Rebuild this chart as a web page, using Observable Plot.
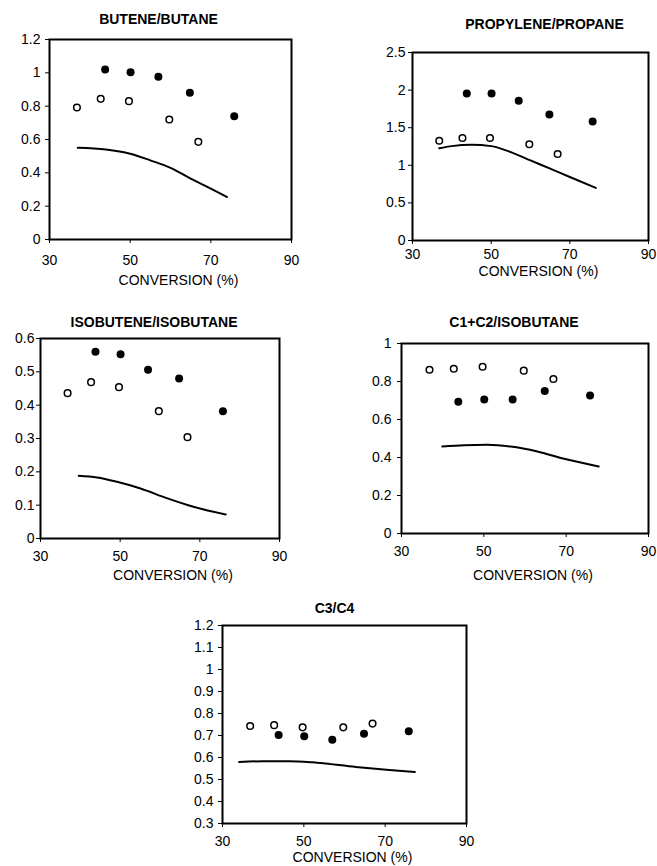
<!DOCTYPE html>
<html><head><meta charset="utf-8">
<script src="https://cdn.jsdelivr.net/npm/d3@7"></script>
<script src="https://cdn.jsdelivr.net/npm/@observablehq/plot@0.6"></script>
<style>
body{margin:0;background:#fff;}
#root{position:relative;width:657px;height:866px;overflow:hidden;background:#fff;}
#root svg{position:absolute;}
</style></head><body><div id="root"></div>
<script>
// ---- shared ----
const xLabel = "CONVERSION (%)";
const xTicks = [30, 50, 70, 90];
const convFilled = [43.8, 50.1, 57.0, 64.8, 75.8];
const convOpen = [36.8, 42.7, 49.7, 59.7, 66.9];

// ---- BUTENE/BUTANE ----
const title1 = "BUTENE/BUTANE";
const yTicks1 = [0, 0.2, 0.4, 0.6, 0.8, 1, 1.2];
const filled1 = [1.02, 1.004, 0.976, 0.88, 0.74];
const open1 = [0.792, 0.844, 0.83, 0.72, 0.586];
const lineX1 = [37, 44, 50, 55, 60, 65, 70, 74];
const lineY1 = [0.55, 0.54, 0.515, 0.475, 0.43, 0.365, 0.305, 0.255];

// ---- PROPYLENE/PROPANE ----
const title2 = "PROPYLENE/PROPANE";
const yTicks2 = [0, 0.5, 1, 1.5, 2, 2.5];
const filled2 = [1.956, 1.956, 1.858, 1.677, 1.584];
const open2 = [1.327, 1.363, 1.363, 1.279, 1.15];
const lineX2 = [36.8, 40, 45, 50, 55, 60, 65, 70, 76.6];
const lineY2 = [1.226, 1.255, 1.272, 1.255, 1.175, 1.065, 0.955, 0.845, 0.70];

// ---- ISOBUTENE/ISOBUTANE ----
const title3 = "ISOBUTENE/ISOBUTANE";
const yTicks3 = [0, 0.1, 0.2, 0.3, 0.4, 0.5, 0.6];
const filled3 = [0.560, 0.553, 0.506, 0.48, 0.382];
const open3 = [0.436, 0.469, 0.454, 0.382, 0.304];
const lineX3 = [39.6, 44.2, 49.2, 55.1, 61.7, 68.4, 76.5];
const lineY3 = [0.188, 0.183, 0.170, 0.150, 0.121, 0.095, 0.072];

// ---- C1+C2/ISOBUTANE ----
const title4 = "C1+C2/ISOBUTANE";
const yTicks4 = [0, 0.2, 0.4, 0.6, 0.8, 1];
const filled4 = [0.694, 0.705, 0.705, 0.75, 0.726];
const open4 = [0.862, 0.867, 0.878, 0.857, 0.813];
const lineX4 = [39.9, 45.2, 50.8, 56.5, 63, 69.5, 77.9];
const lineY4 = [0.458, 0.465, 0.467, 0.458, 0.432, 0.393, 0.353];

// ---- C3/C4 ----
const title5 = "C3/C4";
const yTicks5 = [0.3, 0.4, 0.5, 0.6, 0.7, 0.8, 0.9, 1, 1.1, 1.2];
const filled5 = [0.702, 0.697, 0.681, 0.708, 0.719];
const open5 = [0.743, 0.747, 0.737, 0.737, 0.754];
const lineX5 = [34.1, 40, 46.4, 52.1, 62.8, 71, 77.3];
const lineY5 = [0.579, 0.583, 0.583, 0.578, 0.557, 0.543, 0.534];

const panels = [
  {title: title1, yTicks: yTicks1, filled: filled1, open: open1, lx: lineX1, ly: lineY1,
   left: 0, top: 0, width: 300, height: 295, mL: 49, mR: 9, mT: 39, mB: 56,
   xpad: 12, ypad: 5, tdx: -12, tdy: -20, ldx: 8, ldy: 41},
  {title: title2, yTicks: yTicks2, filled: filled2, open: open2, lx: lineX2, ly: lineY2,
   left: 330, top: 0, width: 327, height: 282, mL: 82, mR: 9, mT: 52, mB: 42,
   xpad: 5, ypad: 3, tdx: 14, tdy: -28, ldx: 8, ldy: 31},
  {title: title3, yTicks: yTicks3, filled: filled3, open: open3, lx: lineX3, ly: lineY3,
   left: 0, top: 300, width: 300, height: 285, mL: 40, mR: 21, mT: 38, mB: 47,
   xpad: 9, ypad: 2, tdx: -6, tdy: -16, ldx: 13, ldy: 37},
  {title: title4, yTicks: yTicks4, filled: filled4, open: open4, lx: lineX4, ly: lineY4,
   left: 330, top: 300, width: 327, height: 285, mL: 71, mR: 9, mT: 43, mB: 52,
   xpad: 9, ypad: 6, tdx: -11, tdy: -21, ldx: 8, ldy: 42},
  {title: title5, yTicks: yTicks5, filled: filled5, open: open5, lx: lineX5, ly: lineY5,
   left: 160, top: 590, width: 330, height: 276, mL: 62, mR: 24, mT: 35, mB: 43,
   xpad: 9, ypad: 5, tdx: -10, tdy: -17, ldx: 8, ldy: 34}
];

const root = document.getElementById("root");
const fmt = d3.format("~g");
for (const p of panels) {
  const filledData = convFilled.map((x, i) => ({x, y: p.filled[i]}));
  const openData = convOpen.map((x, i) => ({x, y: p.open[i]}));
  const lineData = p.lx.map((x, i) => ({x, y: p.ly[i]}));
  const chart = Plot.plot({
    width: p.width, height: p.height,
    marginLeft: p.mL, marginRight: p.mR, marginTop: p.mT, marginBottom: p.mB,
    style: {fontFamily: "'Liberation Sans', Arial, sans-serif", fontSize: "14px", color: "black", overflow: "visible"},
    x: {domain: [30, 90]},
    y: {domain: [p.yTicks[0], p.yTicks[p.yTicks.length - 1]]},
    marks: [
      Plot.axisX({ticks: xTicks, tickSize: 4, tickPadding: p.xpad, label: null, tickFormat: d => String(d)}),
      Plot.axisY({ticks: p.yTicks, tickSize: 4, tickPadding: p.ypad, label: null, tickFormat: fmt}),
      Plot.line(lineData, {x: "x", y: "y", curve: "monotone-x", stroke: "black", strokeWidth: 2}),
      Plot.dot(openData, {x: "x", y: "y", r: 3.3, fill: "white", stroke: "black", strokeWidth: 1.5}),
      Plot.dot(filledData, {x: "x", y: "y", r: 4, fill: "black"}),
      Plot.frame({stroke: "black", strokeWidth: 2}),
      Plot.text([p.title], {text: d => d, frameAnchor: "top", lineAnchor: "middle", dx: p.tdx, dy: p.tdy, fontWeight: "bold", fontSize: 14}),
      Plot.text([xLabel], {text: d => d, frameAnchor: "bottom", lineAnchor: "middle", dx: p.ldx, dy: p.ldy, fontSize: 14})
    ]
  });
  chart.style.left = p.left + "px";
  chart.style.top = p.top + "px";
  root.appendChild(chart);
}
</script>
</body></html>
